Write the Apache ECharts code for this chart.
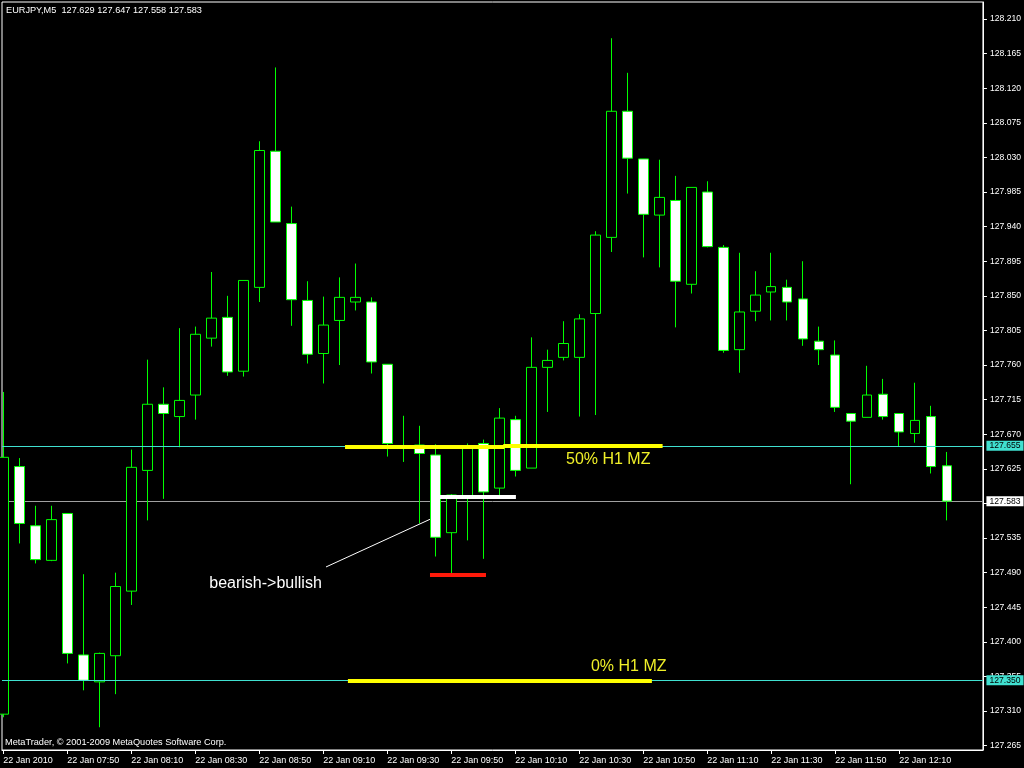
<!DOCTYPE html>
<html>
<head>
<meta charset="utf-8">
<style>
html,body{margin:0;padding:0;background:#000;}
#chart{width:1024px;height:768px;}
</style>
<script src="https://cdn.jsdelivr.net/npm/echarts@6/dist/echarts.min.js"></script>
</head>
<body>
<div id="chart"></div>
<script>
// ---- data ----
const symbolName = 'EURJPY,M5';
const dayLabel = '22 Jan';
const firstLabel = '22 Jan 2010';
const times = ['07:30','07:35','07:40','07:45','07:50','07:55','08:00','08:05','08:10','08:15',
  '08:20','08:25','08:30','08:35','08:40','08:45','08:50','08:55','09:00','09:05',
  '09:10','09:15','09:20','09:25','09:30','09:35','09:40','09:45','09:50','09:55',
  '10:00','10:05','10:10','10:15','10:20','10:25','10:30','10:35','10:40','10:45',
  '10:50','10:55','11:00','11:05','11:10','11:15','11:20','11:25','11:30','11:35',
  '11:40','11:45','11:50','11:55','12:00','12:05','12:10','12:15','12:20','12:25'];
const opens = [127.306,127.628,127.551,127.506,127.567,127.383,127.348,127.382,127.466,127.623,
  127.709,127.693,127.721,127.795,127.822,127.752,127.861,128.038,127.944,127.844,
  127.775,127.818,127.842,127.842,127.761,127.653,127.656,127.643,127.542,127.588,
  127.658,127.600,127.689,127.626,127.757,127.770,127.770,127.827,127.926,128.090,
  128.028,127.955,127.974,127.865,127.985,127.913,127.780,127.830,127.855,127.861,
  127.846,127.791,127.773,127.697,127.692,127.722,127.697,127.671,127.693,127.629];
const highs = [127.725,127.639,127.577,127.577,127.567,127.488,127.386,127.490,127.650,127.767,
  127.731,127.808,127.810,127.881,127.850,127.870,128.051,128.147,127.966,127.869,
  127.849,127.874,127.892,127.848,127.761,127.694,127.681,127.657,127.592,127.658,
  127.663,127.704,127.694,127.796,127.780,127.817,127.826,127.934,128.185,128.140,
  128.028,128.027,128.006,127.991,127.999,127.916,127.906,127.882,127.906,127.871,
  127.895,127.810,127.792,127.697,127.759,127.742,127.697,127.737,127.707,127.647];
const lows = [127.302,127.528,127.502,127.505,127.372,127.337,127.289,127.332,127.448,127.558,
  127.586,127.653,127.689,127.784,127.746,127.745,127.842,127.946,127.811,127.762,
  127.736,127.760,127.831,127.749,127.641,127.634,127.554,127.511,127.489,127.532,
  127.508,127.589,127.615,127.626,127.699,127.766,127.693,127.695,127.907,127.983,
  127.900,127.887,127.809,127.853,127.913,127.776,127.750,127.817,127.818,127.818,
  127.785,127.760,127.699,127.605,127.692,127.689,127.654,127.659,127.619,127.558];
const closes = [127.640,127.554,127.507,127.559,127.385,127.350,127.385,127.472,127.627,127.709,
  127.697,127.714,127.800,127.821,127.751,127.870,128.039,127.946,127.845,127.774,
  127.812,127.848,127.848,127.764,127.658,127.655,127.645,127.536,127.591,127.653,
  127.595,127.691,127.623,127.757,127.766,127.788,127.820,127.929,128.090,128.029,
  127.956,127.978,127.869,127.991,127.914,127.779,127.829,127.851,127.862,127.842,
  127.794,127.780,127.705,127.687,127.721,127.693,127.673,127.688,127.628,127.583];
const xTickIndex = [0,4,8,12,16,20,24,28,32,36,40,44,48,52,56];
const yTicks = [127.265,127.310,127.355,127.400,127.445,127.490,127.535,127.580,127.625,127.670,
  127.715,127.760,127.805,127.850,127.895,127.940,127.985,128.030,128.075,128.120,128.165,128.210];
// horizontal price levels
const levelHigh = 127.655;
const levelLow = 127.350;
const bidPrice = 127.583;
// drawn objects: [x-index start, x-index end, price]
const yellowSeg1 = [21.36, 31.33, 127.6535];
const yellowSeg2 = [31.25, 41.21, 127.6548];
const yellowSeg3 = [21.54, 40.54, 127.350];
const whiteSeg = [27.29, 32.04, 127.5884];
const redSeg = [26.67, 30.17, 127.4874];
const arrowLine = [[20.17, 127.4974], [26.67, 127.5594]];
const textMid = ['50% H1 MZ', 35.17, 127.6372];
const textLow = ['0% H1 MZ', 36.73, 127.3673];
const textNote = ['bearish->bullish', 12.875, 127.4753];

// ---- chart ----
const FONT = 'Liberation Sans, Arial, sans-serif';
const candleData = times.map((t, i) => [i, opens[i], closes[i], lows[i], highs[i]]);
const last = times.length - 1;
const header = symbolName + '  ' + [opens[last], highs[last], lows[last], closes[last]].map(v => v.toFixed(3)).join(' ');

function seg(s, color) {
  return [{coord: [s[0], s[2]], lineStyle: {color: color, width: 4, type: 'solid'}},
          {coord: [s[1], s[2]]}];
}
function txt(t, color) {
  return {coord: [t[1], t[2]], symbolSize: 0,
    label: {show: true, position: 'right', distance: 0, formatter: t[0], color: color,
      fontSize: 16, fontFamily: FONT}};
}
function priceLabel(bg, v) {
  return {show: true, position: 'end', distance: 3.5, formatter: v.toFixed(3),
    backgroundColor: bg, color: '#000', padding: [1, 3, 0, 3], fontSize: 8.6, fontFamily: FONT};
}

const chart = echarts.init(document.getElementById('chart'), null, {renderer: 'canvas'});
chart.setOption({
  animation: false,
  backgroundColor: '#000',
  title: [
    {text: header, left: 6, top: 6, padding: 0,
     textStyle: {color: '#fff', fontSize: 9.2, fontWeight: 'normal', fontFamily: FONT}},
    {text: 'MetaTrader, \u00a9 2001-2009 MetaQuotes Software Corp.', left: 5, top: 738, padding: 0,
     textStyle: {color: '#fff', fontSize: 9.2, fontWeight: 'normal', fontFamily: FONT}}
  ],
  grid: {left: 2, top: 2, width: 981, height: 748, show: true, borderColor: '#fff', borderWidth: 1,
         backgroundColor: 'transparent'},
  xAxis: {
    type: 'value', min: -0.08125, max: 61.23125,
    axisLine: {show: true, onZero: false, lineStyle: {color: '#fff', width: 1}},
    splitLine: {show: false},
    axisTick: {show: true, length: 4, inside: false, customValues: xTickIndex, lineStyle: {color: '#fff'}},
    axisLabel: {show: true, customValues: xTickIndex, color: '#fff', fontSize: 9, fontFamily: FONT,
      align: 'left', margin: 6,
      formatter: v => (Math.round(v) === 0 ? firstLabel : dayLabel + ' ' + times[Math.round(v)])}
  },
  yAxis: {
    type: 'value', position: 'right', min: 127.2594, max: 128.2321, scale: true,
    axisLine: {show: true, onZero: false, lineStyle: {color: '#fff', width: 1}},
    splitLine: {show: false},
    axisTick: {show: true, length: 4, inside: false, customValues: yTicks, lineStyle: {color: '#fff'}},
    axisLabel: {show: true, customValues: yTicks, color: '#fff', fontSize: 8.6, fontFamily: FONT,
      margin: 7, formatter: v => v.toFixed(3)}
  },
  series: [
    {
      type: 'candlestick',
      z: 2,
      data: candleData,
      encode: {x: 0, y: [1, 2, 3, 4]},
      barWidth: 10,
      itemStyle: {color: '#000', color0: '#fff', borderColor: '#00ff00', borderColor0: '#00ff00', borderWidth: 1},
      markLine: {
        silent: true, symbol: 'none', z: 6, animation: false, precision: 5,
        label: {show: false},
        data: [
          {yAxis: levelHigh, lineStyle: {color: '#40e0d0', width: 1, type: 'solid'}, label: priceLabel('#40e0d0', levelHigh)},
          {yAxis: levelLow, lineStyle: {color: '#40e0d0', width: 1, type: 'solid'}, label: priceLabel('#40e0d0', levelLow)},
          {yAxis: levelLow, symbol: ['rect', 'rect'], symbolSize: 4, lineStyle: {color: '#ffffff', width: 0, opacity: 0}, label: {show: false}},
          seg(yellowSeg1, '#ffff00'),
          seg(yellowSeg2, '#ffff00'),
          seg(yellowSeg3, '#ffff00'),
          seg(whiteSeg, '#ffffff'),
          seg(redSeg, '#ff1a0a'),
          [{coord: arrowLine[0], lineStyle: {color: '#ffffff', width: 1, type: 'solid'}}, {coord: arrowLine[1]}]
        ]
      },
      markPoint: {
        silent: true, symbol: 'circle', symbolSize: 0, animation: false,
        data: [txt(textMid, '#f0f028'), txt(textLow, '#f0f028'), txt(textNote, '#ffffff')]
      }
    },
    {
      type: 'line', z: 1, data: [], silent: true,
      markLine: {
        silent: true, symbol: 'none', z: 1, animation: false, precision: 5,
        data: [{yAxis: bidPrice, lineStyle: {color: '#a0a0a0', width: 1, type: 'solid'}, label: priceLabel('#ffffff', bidPrice)}]
      }
    }
  ]
});
</script>
</body>
</html>
